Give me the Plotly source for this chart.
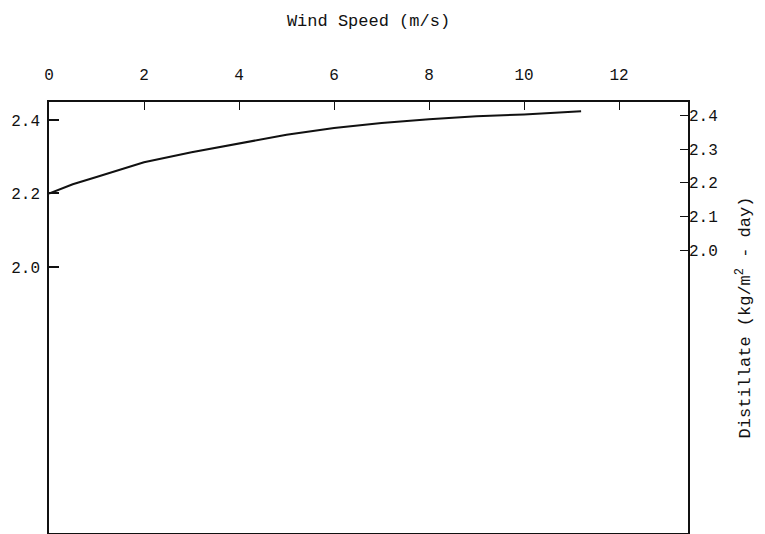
import plotly.graph_objects as go

# curve: wind speed (m/s) vs distillate (kg/m^2-day)
wind_speed = [0.0, 0.5, 1.0, 2.0, 3.0, 4.0, 5.0, 6.0, 7.0, 8.0, 9.0, 10.0, 11.2]
distillate = [2.200, 2.225, 2.245, 2.285, 2.312, 2.336, 2.360, 2.378, 2.392, 2.402, 2.410, 2.415, 2.424]

x_ticks = [0, 2, 4, 6, 8, 10, 12]
left_ticks = [2.0, 2.2, 2.4]
right_ticks = [2.0, 2.1, 2.2, 2.3, 2.4]

mono = "Liberation Mono, DejaVu Sans Mono, monospace"

fig = go.Figure()
fig.add_trace(go.Scatter(x=wind_speed, y=distillate, mode='lines',
                         line=dict(color='#111', width=2), showlegend=False))
# second trace on the right-hand axis so it gets drawn
fig.add_trace(go.Scatter(x=wind_speed, y=distillate, yaxis='y2', mode='lines',
                         line=dict(width=0), hoverinfo='skip', showlegend=False))

# page body has an 8px margin, so the figure is a bit smaller than the window
fig.update_layout(
    width=757, height=526,
    margin=dict(l=41, r=77, t=94, b=1),
    paper_bgcolor='white', plot_bgcolor='white',
    font=dict(family=mono, size=16, color='#111'),
    xaxis=dict(side='top', range=[0, 13.45], tickvals=x_ticks, ticks='inside', ticklen=8,
               tickcolor='#111', showgrid=False, zeroline=False, showline=True, linecolor='#111',
               linewidth=1.5, mirror=True, ticklabelstandoff=14, automargin=False,
               title=dict(text='Wind Speed (m/s)', standoff=36, font=dict(size=17))),
    yaxis=dict(range=[1.276, 2.449], tickvals=left_ticks, tickformat='.1f', ticks='inside',
               ticklen=10, tickwidth=2, tickcolor='#111', showgrid=False, zeroline=False,
               showline=True, linecolor='#111', linewidth=1.5, mirror=True, ticklabelstandoff=4,
               automargin=False),
    yaxis2=dict(overlaying='y', side='right', range=[1.16, 2.44], tickvals=right_ticks,
                tickformat='.1f', ticks='inside', ticklen=8, tickcolor='#111', showgrid=False,
                zeroline=False, showline=False, ticklabelstandoff=0, automargin=False,
                title=dict(text='Distillate (kg/m<sup>2</sup> - day)', standoff=21,
                           font=dict(size=17))),
)

fig.write_html("out.html")
